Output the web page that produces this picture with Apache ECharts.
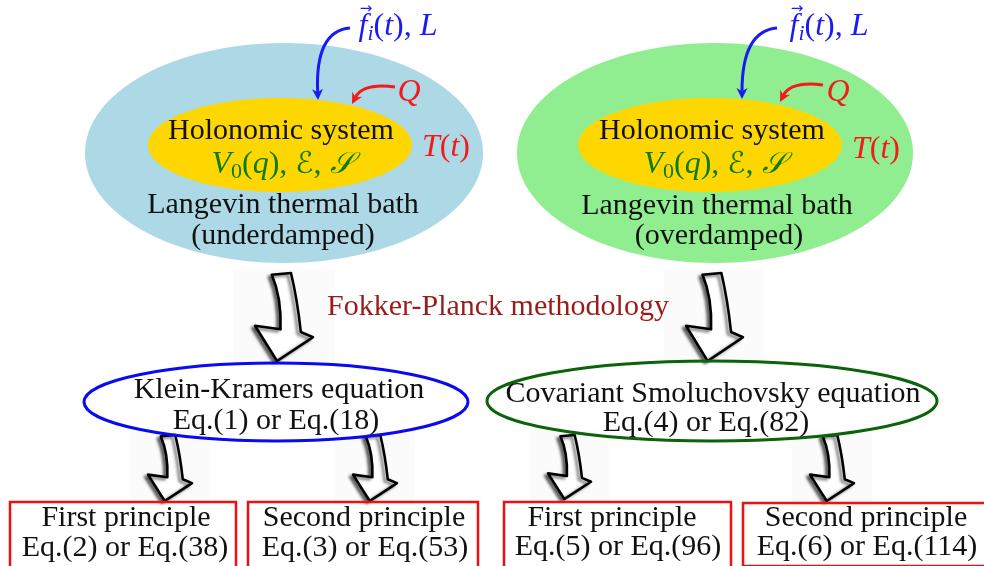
<!DOCTYPE html>
<html><head><meta charset="utf-8">
<script src="https://cdn.jsdelivr.net/npm/echarts@6/dist/echarts.min.js"></script>
<style>html,body{margin:0;padding:0;background:#fff}#c{width:984px;height:566px}</style>
</head><body><div id="c"></div>
<script>
// ---------- content ----------
const systemTitles = ['Holonomic system', 'Holonomic system'];
const bathTitles = ['Langevin thermal bath', 'Langevin thermal bath'];
const bathRegimes = ['(underdamped)', '(overdamped)'];
const methodology = ['Fokker-Planck methodology'];
const equationNames = ['Klein-Kramers equation', 'Covariant Smoluchovsky equation'];
const equationRefs = ['Eq.(1) or Eq.(18)', 'Eq.(4) or Eq.(82)'];
const principleNames = ['First principle', 'Second principle', 'First principle', 'Second principle'];
const principleRefs = ['Eq.(2) or Eq.(38)', 'Eq.(3) or Eq.(53)', 'Eq.(5) or Eq.(96)', 'Eq.(6) or Eq.(114)'];
// math labels as [glyphs, kind]
const systemSymbols = [['V','i'],['0','sub'],['(','r'],['q','i'],[')','r'],[', ','r'],['\u2130','s'],[', ','r'],['\uD835\uDCAE','s']];
const forceSymbols = [['f','i'],['i','subi'],['(','r'],['t','i'],[')','r'],[', ','r'],['L','i']];
const heatSymbols = [['Q','i']];
const tempSymbols = [['T','i'],['(','r'],['t','i'],[')','r']];

// ---------- layout (pixel axis units) ----------
const bathLayout = [[284,153,199,110],[715,153,198,110]];
const systemLayout = [[280,145,132,47],[710,145,132,47]];
const equationLayout = [[276,402,192,39],[712,401,225,40]];
const boxLayout = [[10,502,226,70],[248,502,230,70],[504,502,227,70],[743,503,245,63]];
const bigArrowLayout = [[255,273,58,88],[686,273,57,88]];
const smallArrowLayout = [[148,435,44,66],[353,435,44,66],[548,435,43,64],[810,435,44,66]];
const curveLayout = [ // x0,y0,cpx,cpy,x1,y1
  [350,28,315,31,318,100],[395,87,363,83,352,104],
  [777,28,742,31,742,99],[823,85,791,81,780,102]];
const curveColors = ['#1a1af5','#f21b1b','#1a1af5','#f21b1b'];
const systemTextPos = [[281,131],[712,131]];
const bathTextPos = [[283,205],[717,206]];
const regimeTextPos = [[283,236],[719,236]];
const methodPos = [[498,307]];
const eqNamePos = [[279,390],[713,394]];
const eqRefPos = [[276,421],[706,423]];
const prinNamePos = [[126,518],[364,518],[612,518],[866,518]];
const prinRefPos = [[125,548],[365,548],[618,547],[867,547]];
const symPos = [[282,165],[714,165]];
const forcePos = [[398,27],[829,27]];
const heatPos = [[409,93],[838,93]];
const tempPos = [[446,148],[876,150]];

const SERIF = '"Liberation Serif", "Times New Roman", serif';
const FS = 30;
const MS = 32;
const arrowPath = 'M29,2 L62,0 Q73,30 79,67 L100,73 L38,100 L0,60 L44,64 Q46,28 29,2 Z';

const mctx = document.createElement('canvas').getContext('2d');
function fontFor(kind) {
  if (kind === 'i') return 'italic ' + MS + 'px ' + SERIF;
  if (kind === 'sub') return '22px ' + SERIF;
  if (kind === 'subi') return 'italic 22px ' + SERIF;
  if (kind === 's') return 'italic 30px "DejaVu Serif", "DejaVu Sans", serif';
  return MS + 'px ' + SERIF;
}
function mathEls(tokens, cx, cy, color, vec) {
  const ws = tokens.map(t => { mctx.font = fontFor(t[1]); return mctx.measureText(t[0]).width; });
  const total = ws.reduce((a, b) => a + b, 0);
  let x = cx - total / 2;
  const els = [];
  tokens.forEach((t, k) => {
    const sub = t[1] === 'sub' || t[1] === 'subi';
    els.push({type: 'text', style: {text: t[0], x: x, y: cy + (sub ? 7 : 0), font: fontFor(t[1]),
      fill: color, align: 'left', verticalAlign: 'middle'}});
    if (vec && k === 0) {
      els.push({type: 'text', style: {text: '\u2192', x: x + ws[0] / 2 + 3, y: cy - 18,
        font: '15px "DejaVu Sans"', fill: color, align: 'center', verticalAlign: 'middle'}});
    }
    x += ws[k];
  });
  return els;
}

const chart = echarts.init(document.getElementById('c'), null, {renderer: 'canvas'});
const idx = arr => arr.map((_, i) => [i]);

function textSeries(name, texts, pos, color, z) {
  return {type: 'custom', name: name, coordinateSystem: 'cartesian2d', data: idx(texts), z: z || 10,
    renderItem: (p, api) => {
      const i = api.value(0); const c = api.coord(pos[i]);
      return {type: 'text', style: {text: texts[i], x: c[0], y: c[1], font: FS + 'px ' + SERIF,
        fill: color, align: 'center', verticalAlign: 'middle'}};
    }};
}
function mathSeries(name, tokens, pos, color, vec) {
  return {type: 'custom', name: name, coordinateSystem: 'cartesian2d', data: idx(pos), z: 10,
    renderItem: (p, api) => {
      const c = api.coord(pos[api.value(0)]);
      return {type: 'group', children: mathEls(tokens, c[0], c[1], color, vec)};
    }};
}
function arrowSeries(name, lay, pad) {
  return {type: 'custom', name: name, coordinateSystem: 'cartesian2d', data: idx(lay), z: 3,
    renderItem: (p, api) => {
      const b = lay[api.value(0)];
      const tl = api.coord([b[0], b[1]]); const sz = api.size([b[2], b[3]]);
      return {type: 'group', children: [
        {type: 'rect', shape: {x: tl[0] - pad, y: tl[1] - 4, width: sz[0] + 2 * pad, height: sz[1] + 8},
          style: {fill: '#fbfbfb'}},
        {type: 'path', shape: {pathData: arrowPath, x: tl[0], y: tl[1], width: sz[0], height: sz[1], layout: 'cover'},
          style: {fill: '#ffffff', stroke: '#000', lineWidth: 2.6, lineJoin: 'round',
            shadowBlur: 3, shadowColor: 'rgba(0,0,0,0.55)', shadowOffsetX: -3, shadowOffsetY: 2}}
      ]};
    }};
}

const option = {
  animation: false,
  grid: {left: 0, right: 0, top: 0, bottom: 0},
  xAxis: {type: 'value', min: 0, max: 984, show: false},
  yAxis: {type: 'value', min: 0, max: 566, inverse: true, show: false},
  series: [
    arrowSeries('bigArrows', bigArrowLayout, 22),
    arrowSeries('smallArrows', smallArrowLayout, 18),
    {type: 'custom', name: 'baths', coordinateSystem: 'cartesian2d', data: idx(bathLayout), z: 4,
      renderItem: (p, api) => {
        const i = api.value(0); const L = bathLayout[i]; const c = api.coord([L[0], L[1]]); const s = api.size([L[2], L[3]]);
        return {type: 'ellipse', shape: {cx: c[0], cy: c[1], rx: s[0], ry: s[1]}, style: {fill: i ? '#90ee90' : '#add8e6'}};
      }},
    {type: 'custom', name: 'systems', coordinateSystem: 'cartesian2d', data: idx(systemLayout), z: 5,
      renderItem: (p, api) => {
        const L = systemLayout[api.value(0)]; const c = api.coord([L[0], L[1]]); const s = api.size([L[2], L[3]]);
        return {type: 'ellipse', shape: {cx: c[0], cy: c[1], rx: s[0], ry: s[1]}, style: {fill: '#ffd700'}};
      }},
    {type: 'custom', name: 'equations', coordinateSystem: 'cartesian2d', data: idx(equationLayout), z: 6,
      renderItem: (p, api) => {
        const i = api.value(0); const L = equationLayout[i]; const c = api.coord([L[0], L[1]]); const s = api.size([L[2], L[3]]);
        return {type: 'ellipse', shape: {cx: c[0], cy: c[1], rx: s[0], ry: s[1]},
          style: {fill: null, stroke: i ? '#0b640b' : '#0a0af0', lineWidth: 3}};
      }},
    {type: 'custom', name: 'principles', coordinateSystem: 'cartesian2d', data: idx(boxLayout), z: 6,
      renderItem: (p, api) => {
        const L = boxLayout[api.value(0)]; const c = api.coord([L[0], L[1]]); const s = api.size([L[2], L[3]]);
        return {type: 'rect', shape: {x: c[0], y: c[1], width: s[0], height: s[1]},
          style: {fill: null, stroke: '#f01010', lineWidth: 2.5}};
      }},
    {type: 'custom', name: 'inputs', coordinateSystem: 'cartesian2d', data: idx(curveLayout), z: 8,
      renderItem: (p, api) => {
        const L = curveLayout[api.value(0)]; const col = curveColors[api.value(0)];
        const a = api.coord([L[0], L[1]]), q = api.coord([L[2], L[3]]), e = api.coord([L[4], L[5]]);
        const dx = e[0] - q[0], dy = e[1] - q[1], d = Math.hypot(dx, dy); const ux = dx / d, uy = dy / d;
        const hl = 11, hw = 5.5;
        const bx = e[0] - ux * hl, by = e[1] - uy * hl;
        const nb = [e[0] - ux * hl * 0.7, e[1] - uy * hl * 0.7];
        return {type: 'group', children: [
          {type: 'bezierCurve', shape: {x1: a[0], y1: a[1], cpx1: q[0], cpy1: q[1], x2: nb[0], y2: nb[1]},
            style: {fill: null, stroke: col, lineWidth: 3}},
          {type: 'polygon', shape: {points: [[e[0], e[1]], [bx - uy * hw, by + ux * hw], nb, [bx + uy * hw, by - ux * hw]]},
            style: {fill: col}}
        ]};
      }},
    textSeries('systemTitles', systemTitles, systemTextPos, '#111'),
    textSeries('bathTitles', bathTitles, bathTextPos, '#111'),
    textSeries('bathRegimes', bathRegimes, regimeTextPos, '#111'),
    textSeries('methodology', methodology, methodPos, '#9b1b1b'),
    textSeries('equationNames', equationNames, eqNamePos, '#111'),
    textSeries('equationRefs', equationRefs, eqRefPos, '#111'),
    textSeries('principleNames', principleNames, prinNamePos, '#111'),
    textSeries('principleRefs', principleRefs, prinRefPos, '#111'),
    mathSeries('systemSymbols', systemSymbols, symPos, '#0f7a0f'),
    mathSeries('forces', forceSymbols, forcePos, '#1a1af5', true),
    mathSeries('heat', heatSymbols, heatPos, '#f21b1b'),
    mathSeries('temperature', tempSymbols, tempPos, '#f21b1b')
  ]
};
chart.setOption(option);
</script></body></html>
